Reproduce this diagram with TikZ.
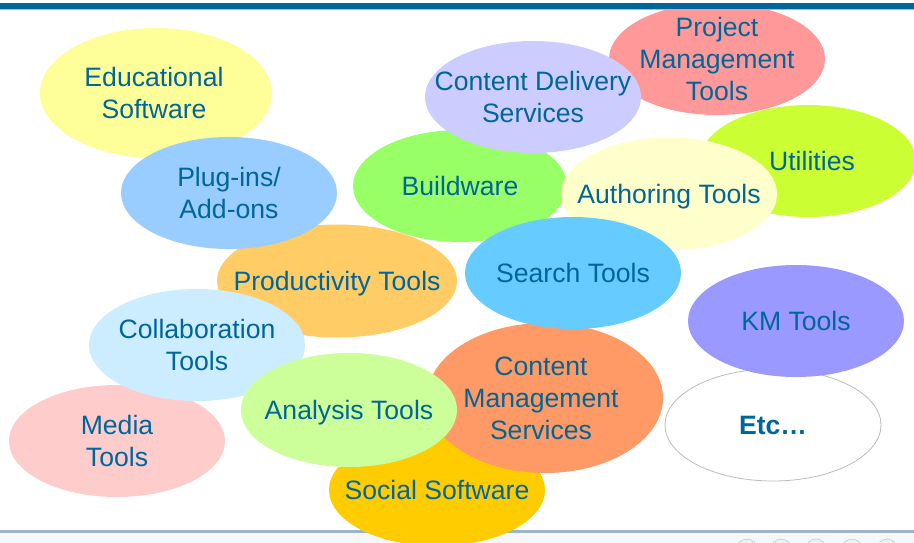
\documentclass[tikz,border=0pt]{standalone}
\usepackage{fontspec}
\setmainfont{Liberation Sans}
\usetikzlibrary{shapes.geometric}

\definecolor{txtblue}{HTML}{006699}
\definecolor{barblue}{HTML}{006699}
\definecolor{barlight}{HTML}{8FC3E0}
\definecolor{footline}{HTML}{9DB3CE}
\definecolor{footpanel}{HTML}{F6F7F8}
\definecolor{etcgray}{HTML}{BBBBBB}

\definecolor{eduyellow}{HTML}{FFFF99}
\definecolor{projred}{HTML}{FF9999}
\definecolor{utilgreen}{HTML}{CCFF33}
\definecolor{buildgreen}{HTML}{99FF66}
\definecolor{delivlilac}{HTML}{CCCCFF}
\definecolor{authyellow}{HTML}{FFFFCC}
\definecolor{prodorange}{HTML}{FFCC66}
\definecolor{plugblue}{HTML}{99CCFF}
\definecolor{socialgold}{HTML}{FFCC00}
\definecolor{mediapink}{HTML}{FFCCCC}
\definecolor{cmsorange}{HTML}{FF9966}
\definecolor{searchblue}{HTML}{66CCFF}
\definecolor{collabblue}{HTML}{CCECFF}
\definecolor{analgreen}{HTML}{CCFF99}
\definecolor{kmviolet}{HTML}{9999FF}

\begin{document}
\begin{tikzpicture}
    [   x = 1pt, y = -1pt
    ,   blob/.style = {ellipse, inner sep = 0pt, minimum width = 216pt, minimum height = 112pt}
    ,   lbl/.style = {text = txtblue, align = center, inner sep = 0pt, text depth = 0pt,
                      font = \fontsize{26.6}{32}\selectfont}
    ]
    \useasboundingbox (0,0) rectangle (914,543);
    \fill[white] (0,0) rectangle (914,543);

    % footer
    \fill[footpanel] (0,532) rectangle (914,543);
    \fill[footline] (0,530) rectangle (914,532.5);
    \foreach\x in {747,781,816,852,887}
    {
        \filldraw[draw = gray!55, fill = gray!12] (\x,549) circle (10);
    }

    % bubbles, back to front
    \node[blob, fill = eduyellow, minimum width = 232pt, minimum height = 130pt] (edu) at (156,93) {};
    \node[lbl, xshift = -2pt] (edu-t) at (edu) {Educational\\Software};

    \node[blob, fill = projred] (proj) at (717,59) {};
    \node[lbl] (proj-t) at (proj) {Project\\Management\\Tools};

    \node[blob, fill = utilgreen] (util) at (808,161) {};
    \node[lbl, xshift = 4pt] (util-t) at (util) {Utilities};

    \node[blob, fill = buildgreen, minimum width = 214pt] (build) at (460,186) {};
    \node[lbl] (build-t) at (build) {Buildware};

    \node[blob, fill = delivlilac] (deliv) at (533,97) {};
    \node[lbl] (deliv-t) at (deliv) {Content Delivery\\Services};

    \node[blob, fill = authyellow, minimum height = 113pt] (auth) at (669,194) {};
    \node[lbl] (auth-t) at (auth) {Authoring Tools};

    \node[blob, fill = prodorange, minimum width = 240pt, minimum height = 113pt] (prod) at (337,281) {};
    \node[lbl] (prod-t) at (prod) {Productivity Tools};

    \node[blob, fill = plugblue] (plug) at (229,193) {};
    \node[lbl] (plug-t) at (plug) {Plug-ins/\\Add-ons};

    \node[blob, fill = socialgold] (social) at (437,490) {};
    \node[lbl] (social-t) at (social) {Social Software};

    \node[blob, fill = mediapink] (media) at (117,441) {};
    \node[lbl] (media-t) at (media) {Media\\Tools};

    \node[blob, fill = cmsorange, minimum width = 236pt, minimum height = 150pt] (cms) at (545,398) {};
    \node[lbl, xshift = -4pt] (cms-t) at (cms) {Content\\Management\\Services};

    \node[blob, fill = searchblue] (search) at (573,273) {};
    \node[lbl] (search-t) at (search) {Search Tools};

    \node[blob, fill = collabblue] (collab) at (197,345) {};
    \node[lbl] (collab-t) at (collab) {Collaboration\\Tools};

    \node[blob, fill = analgreen, minimum height = 114pt] (anal) at (349,410) {};
    \node[lbl] (anal-t) at (anal) {Analysis Tools};

    \node[blob, draw = etcgray, line width = 0.8pt, fill = white] (etc) at (773,425) {};
    \node[lbl, font = \fontsize{26.6}{32}\selectfont\bfseries] (etc-t) at (etc) {Etc…};

    \node[blob, fill = kmviolet] (km) at (796,321) {};
    \node[lbl] (km-t) at (km) {KM Tools};

    % header bar
    \fill[white] (0,0) rectangle (914,3.5);
    \fill[barblue] (0,3.5) rectangle (914,9);
    \fill[barlight] (0,9) rectangle (914,10);
\end{tikzpicture}
\end{document}
